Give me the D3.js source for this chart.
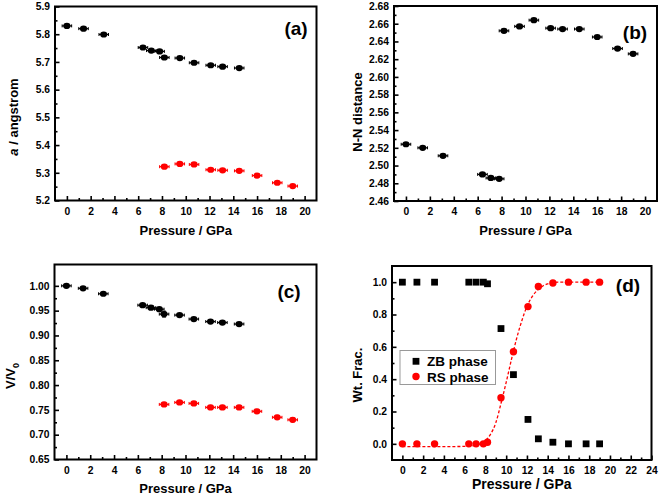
<!DOCTYPE html>
<html><head><meta charset="utf-8">
<script src="https://cdn.jsdelivr.net/npm/d3@7"></script>
<style>
body{margin:0;background:#fff;}
svg{display:block;font-family:"Liberation Sans",Arial,sans-serif;}
.tick text{font-weight:bold;font-size:10.3px;fill:#000;}
</style></head><body>
<svg id="c" width="660" height="496"></svg>
<script>
// ---------- data ----------
const pressureZB = [0, 1.4, 3.1, 6.4, 7.1, 7.8, 8.2, 9.5, 10.7, 12.1, 13.1, 14.5];
const pressureRS = [8.2, 9.5, 10.7, 12.1, 13.1, 14.5, 16.0, 17.7, 19.0];
const pressureAll = [0, 1.4, 3.1, 6.4, 7.1, 7.8, 8.2, 9.5, 10.7, 12.1, 13.1, 14.5, 16.0, 17.7, 19.0];

const aZB = [5.830, 5.820, 5.799, 5.752, 5.741, 5.738, 5.716, 5.714, 5.697, 5.688, 5.683, 5.678];
const aRS = [5.322, 5.332, 5.330, 5.311, 5.309, 5.307, 5.290, 5.264, 5.252];

const nnDist = [2.524, 2.520, 2.511, 2.490, 2.486, 2.485, 2.652, 2.657, 2.664, 2.655, 2.654, 2.654, 2.645, 2.632, 2.626];

const vZB = [1.000, 0.995, 0.984, 0.961, 0.956, 0.953, 0.943, 0.941, 0.933, 0.928, 0.926, 0.923];
const vZBerr = [0.001, 0.001, 0.002, 0.002, 0.002, 0.003, 0.006, 0.002, 0.002, 0.002, 0.002, 0.002];
const vRS = [0.761, 0.765, 0.763, 0.755, 0.755, 0.755, 0.747, 0.735, 0.730];
const vRSerr = [0.004, 0.004, 0.004, 0.004, 0.004, 0.004, 0.004, 0.004, 0.004];

const wtZB = [1.0, 1.0, 1.0, 1.0, 1.0, 1.0, 0.99, 0.713, 0.428, 0.151, 0.031, 0.01, 0.0, 0.0, 0.0];
const wtRS = [0.0, 0.0, 0.0, 0.0, 0.0, 0.0, 0.01, 0.285, 0.57, 0.849, 0.973, 0.995, 1.0, 1.0, 1.0];

const fitP = [0, 2, 4, 6, 7, 7.5, 8, 8.5, 9, 9.5, 10, 10.5, 11, 11.5, 12, 12.5, 13, 13.5, 14, 15, 16, 17, 18, 19];
const fitW = [-0.017, -0.017, -0.017, -0.016, -0.01, 0.0, 0.02, 0.06, 0.13, 0.25, 0.38, 0.52, 0.65, 0.76, 0.85, 0.91, 0.95, 0.975, 0.99, 1.0, 1.0, 1.0, 1.0, 1.0];

const xMajor20 = [0, 2, 4, 6, 8, 10, 12, 14, 16, 18, 20];
const xMajor24 = [0, 2, 4, 6, 8, 10, 12, 14, 16, 18, 20, 22, 24];
const yTicksA = [5.2, 5.3, 5.4, 5.5, 5.6, 5.7, 5.8, 5.9];
const yTicksB = [2.46, 2.48, 2.50, 2.52, 2.54, 2.56, 2.58, 2.60, 2.62, 2.64, 2.66, 2.68];
const yTicksC = [0.65, 0.70, 0.75, 0.80, 0.85, 0.90, 0.95, 1.00];
const yTicksD = [0.0, 0.2, 0.4, 0.6, 0.8, 1.0];

const xErr = 0.4;

// ---------- drawing ----------
const svg = d3.select("#c");

function panel(o) {
  const g = svg.append("g");
  const x = d3.scaleLinear().domain(o.xdom).range([o.l, o.r]);
  const y = d3.scaleLinear().domain(o.ydom).range([o.b, o.t]);
  const xMinor = [];
  for (let i = 0; i < o.xMajor.length - 1; i++) xMinor.push((o.xMajor[i] + o.xMajor[i + 1]) / 2);
  const yMinor = [];
  for (let i = 0; i < o.yMajor.length - 1; i++) yMinor.push((o.yMajor[i] + o.yMajor[i + 1]) / 2);

  g.append("g").attr("transform", `translate(0,${o.b})`)
    .call(d3.axisBottom(x).tickValues(o.xMajor).tickSize(-4.5).tickPadding(7).tickFormat(d3.format("d")));
  g.append("g").attr("transform", `translate(0,${o.b})`)
    .call(d3.axisBottom(x).tickValues(xMinor).tickSize(-2.5).tickFormat(""));
  g.append("g").attr("transform", `translate(${o.l},0)`)
    .call(d3.axisLeft(y).tickValues(o.yMajor).tickSize(-4.5).tickPadding(5).tickFormat(d3.format(o.yfmt)));
  g.append("g").attr("transform", `translate(${o.l},0)`)
    .call(d3.axisLeft(y).tickValues(yMinor).tickSize(-2.5).tickFormat(""));
  g.selectAll(".domain").remove();
  g.selectAll(".tick line").attr("stroke", "#000").attr("stroke-width", 1.6);

  g.append("rect").attr("x", o.l).attr("y", o.t).attr("width", o.r - o.l).attr("height", o.b - o.t)
    .attr("fill", "none").attr("stroke", "#000").attr("stroke-width", 2);

  g.append("text").attr("x", (o.l + o.r) / 2).attr("y", o.xly).attr("text-anchor", "middle")
    .attr("font-weight", "bold").attr("font-size", o.xlfs || 13).text("Pressure / GPa");
  g.append("text").attr("x", o.plx).attr("y", o.ply).attr("text-anchor", "middle")
    .attr("font-weight", "bold").attr("font-size", 19).text(o.plabel);
  return { g, x, y };
}

function errPoints(p, xs, ys, yerr, color) {
  const gg = p.g.append("g");
  xs.forEach((xv, i) => {
    const cx = p.x(xv), cy = p.y(ys[i]);
    const x0 = p.x(xv - xErr), x1 = p.x(xv + xErr);
    gg.append("line").attr("x1", x0).attr("x2", x1).attr("y1", cy).attr("y2", cy).attr("stroke", color).attr("stroke-width", 1.2);
    gg.append("line").attr("x1", x0).attr("x2", x0).attr("y1", cy - 1.5).attr("y2", cy + 1.5).attr("stroke", color).attr("stroke-width", 1);
    gg.append("line").attr("x1", x1).attr("x2", x1).attr("y1", cy - 1.5).attr("y2", cy + 1.5).attr("stroke", color).attr("stroke-width", 1);
    if (yerr) {
      const y0 = p.y(ys[i] - yerr[i]), y1 = p.y(ys[i] + yerr[i]);
      gg.append("line").attr("x1", cx).attr("x2", cx).attr("y1", y0).attr("y2", y1).attr("stroke", color).attr("stroke-width", 1.2);
      gg.append("line").attr("x1", cx - 2).attr("x2", cx + 2).attr("y1", y0).attr("y2", y0).attr("stroke", color).attr("stroke-width", 1);
      gg.append("line").attr("x1", cx - 2).attr("x2", cx + 2).attr("y1", y1).attr("y2", y1).attr("stroke", color).attr("stroke-width", 1);
    }
    gg.append("ellipse").attr("cx", cx).attr("cy", cy).attr("rx", 3.6).attr("ry", 3.1).attr("fill", color);
  });
}

// (a)
const pa = panel({ l: 55, r: 316.5, t: 6.5, b: 200.5, xdom: [-1, 21], ydom: [5.2, 5.9],
  xMajor: xMajor20, yMajor: yTicksA, yfmt: ".1f", xly: 235, plabel: "(a)", plx: 296, ply: 35 });
errPoints(pa, pressureZB, aZB, null, "#000");
errPoints(pa, pressureRS, aRS, null, "#ff0000");
pa.g.append("text").attr("transform", "translate(18,117) rotate(-90)").attr("text-anchor", "middle")
  .attr("font-weight", "bold").attr("font-size", 13)
  .call(t => { t.append("tspan").attr("font-style", "italic").text("a"); t.append("tspan").text(" / angstrom"); });

// (b)
const pb = panel({ l: 394, r: 657, t: 6, b: 201, xdom: [-1, 21], ydom: [2.46, 2.68],
  xMajor: xMajor20, yMajor: yTicksB, yfmt: ".2f", xly: 235, plabel: "(b)", plx: 635, ply: 39 });
errPoints(pb, pressureAll, nnDist, null, "#000");
pb.g.append("text").attr("transform", "translate(362,112) rotate(-90)").attr("text-anchor", "middle")
  .attr("font-weight", "bold").attr("font-size", 13).text("N-N distance");

// (c)
const pc = panel({ l: 54.5, r: 316.5, t: 264.5, b: 459.5, xdom: [-1, 21], ydom: [0.65, 1.043],
  xMajor: xMajor20, yMajor: yTicksC, yfmt: ".2f", xly: 493, plabel: "(c)", plx: 289, ply: 298 });
errPoints(pc, pressureZB, vZB, vZBerr, "#000");
errPoints(pc, pressureRS, vRS, vRSerr, "#ff0000");
pc.g.append("text").attr("transform", "translate(15,376) rotate(-90)").attr("text-anchor", "middle")
  .attr("font-weight", "bold").attr("font-size", 13)
  .call(t => { t.append("tspan").text("V/V"); t.append("tspan").attr("font-size", 9).attr("dy", 4).text("0"); });

// (d)
const pd = panel({ l: 392, r: 651.5, t: 266, b: 460, xdom: [-1, 24], ydom: [-0.1, 1.1],
  xMajor: xMajor24, yMajor: yTicksD, yfmt: ".1f", xly: 489, xlfs: 14, plabel: "(d)", plx: 628, ply: 292 });
pd.g.append("path").datum(fitP.map((p, i) => [p, fitW[i]]))
  .attr("d", d3.line().x(d => pd.x(d[0])).y(d => pd.y(d[1])).curve(d3.curveMonotoneX))
  .attr("fill", "none").attr("stroke", "#ff0000").attr("stroke-width", 1.3).attr("stroke-dasharray", "3,2");
pd.g.append("g").selectAll("rect").data(pressureAll).join("rect")
  .attr("x", (d) => pd.x(d) - 3.4).attr("y", (d, i) => pd.y(wtZB[i]) - 3.4)
  .attr("width", 6.8).attr("height", 6.8).attr("fill", "#000");
pd.g.append("g").selectAll("circle").data(pressureAll).join("circle")
  .attr("cx", (d) => pd.x(d)).attr("cy", (d, i) => pd.y(wtRS[i])).attr("r", 3.7).attr("fill", "#ff0000");
pd.g.append("text").attr("transform", "translate(362,375) rotate(-90)").attr("text-anchor", "middle")
  .attr("font-weight", "bold").attr("font-size", 13).text("Wt. Frac.");
// legend
const lg = pd.g.append("g");
lg.append("rect").attr("x", 400).attr("y", 350.5).attr("width", 95.5).attr("height", 34)
  .attr("fill", "#fff").attr("stroke", "#999").attr("stroke-width", 1);
lg.append("rect").attr("x", 416 - 3.4).attr("y", 361.3 - 3.4).attr("width", 6.8).attr("height", 6.8).attr("fill", "#000");
lg.append("circle").attr("cx", 416).attr("cy", 376.5).attr("r", 3.7).attr("fill", "#ff0000");
lg.append("text").attr("x", 427).attr("y", 366).attr("font-weight", "bold").attr("font-size", 13.5).text("ZB phase");
lg.append("text").attr("x", 427).attr("y", 381.5).attr("font-weight", "bold").attr("font-size", 13.5).text("RS phase");
</script></body></html>
